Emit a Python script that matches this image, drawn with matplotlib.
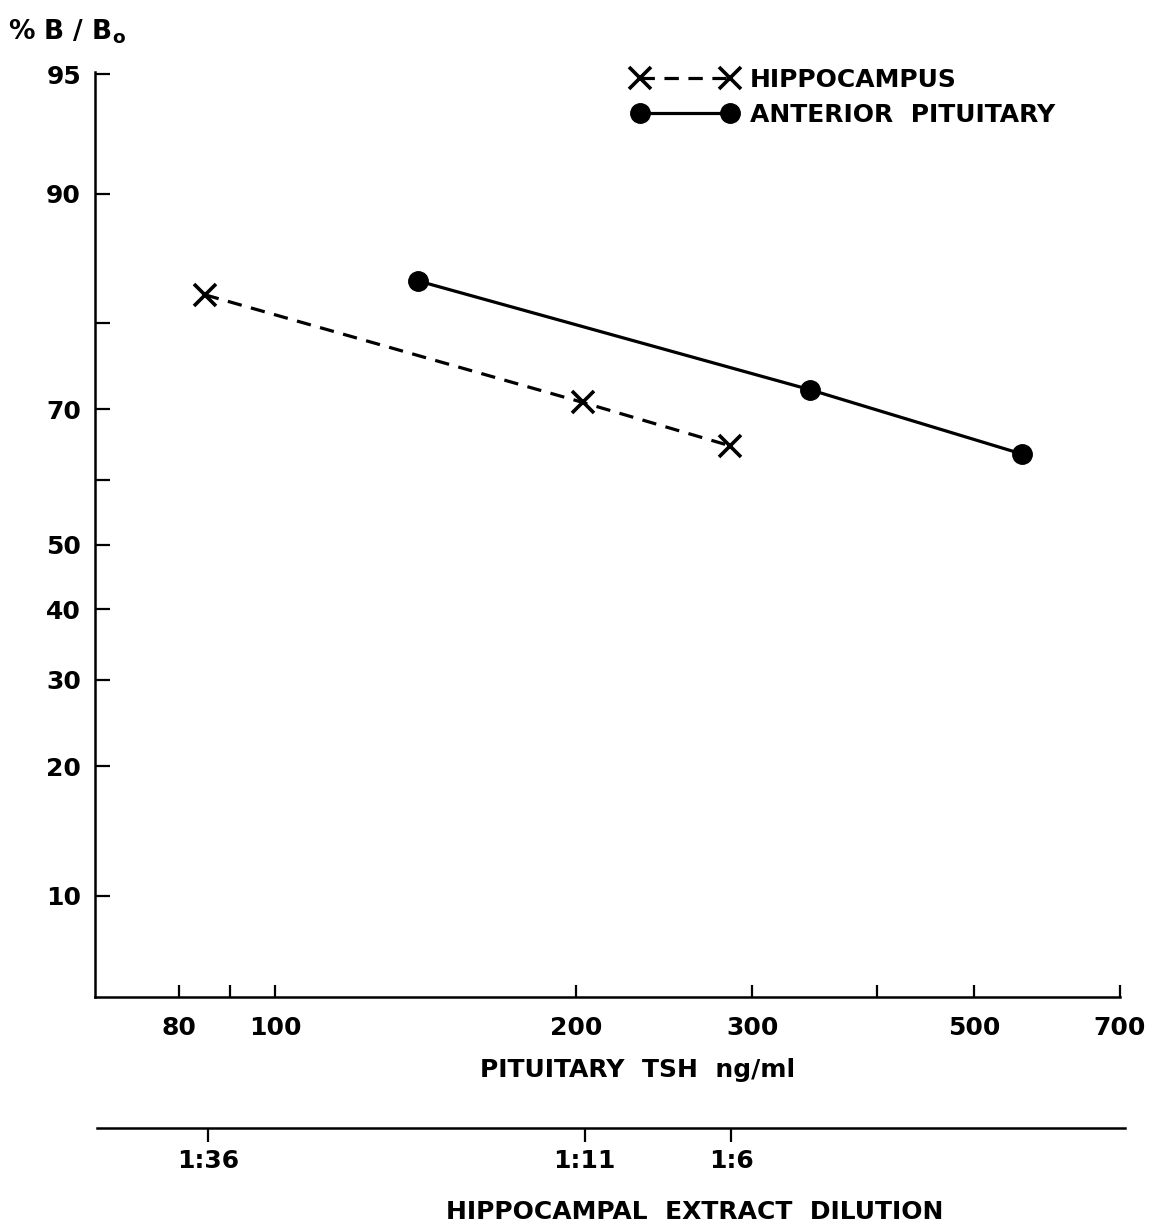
import numpy as np
import matplotlib
matplotlib.use("Agg")
import matplotlib.pyplot as plt

# readings
hippo_tsh = [85, 203, 285]
hippo_bb0 = [82.7, 70.9, 65.0]
pit_tsh = [139, 343, 559]
pit_bb0 = [83.9, 72.5, 63.8]

y_ticks = [95, 90, 80, 70, 60, 50, 40, 30, 20, 10]
y_labels = ['95', '90', '', '70', '', '50', '40', '30', '20', '10']
x_ticks = [80, 90, 100, 200, 300, 400, 500, 700]
x_labels = ['80', '', '100', '200', '300', '', '500', '700']
dilution_labels = ['1:36', '1:11', '1:6']

plt.rcParams['font.family'] = ['DejaVu Sans']
plt.rcParams['font.weight'] = 'bold'
FS = 18


def fwd(p):
    p = np.clip(p, 1e-6, 100 - 1e-6)
    return np.log(p / (100 - p))


def inv(l):
    return 100 / (1 + np.exp(-l))


W, H = 1173, 1231
fig = plt.figure(figsize=(W / 100, H / 100), dpi=100)
ax = fig.add_axes([95 / W, 1 - 997 / H, 1025 / W, 925 / H])

ax.plot(hippo_tsh, hippo_bb0, color='black', lw=2.3, ls=(0, (4.5, 3)),
        marker='x', ms=16, mew=2.6, label='HIPPOCAMPUS')
ax.plot(pit_tsh, pit_bb0, color='black', lw=2.3, ls='-',
        marker='o', ms=14, label='ANTERIOR  PITUITARY')

ax.set_xscale('log')
ax.set_xlim(66, 700)
ax.set_yscale('function', functions=(fwd, inv))
ax.set_ylim(5.56, 95.07)

ax.set_xticks(x_ticks)
ax.set_xticklabels(x_labels)
ax.xaxis.set_minor_locator(matplotlib.ticker.NullLocator())
ax.set_yticks(y_ticks)
ax.set_yticklabels(y_labels)
ax.yaxis.set_minor_locator(matplotlib.ticker.NullLocator())

for s in ['top', 'right']:
    ax.spines[s].set_visible(False)
for s in ['left', 'bottom']:
    ax.spines[s].set_linewidth(1.8)

ax.tick_params(axis='x', direction='in', length=9, width=1.6, pad=14, labelsize=FS)
ax.tick_params(axis='y', direction='in', length=11, width=1.6, pad=10, labelsize=FS)
ax.set_xlabel('PITUITARY  TSH  ng/ml', fontsize=FS, fontweight='bold')
ax.xaxis.set_label_coords((638 - 95) / 1025, -(1058 - 997) / 925)

fig.text(8 / W, 1 - 32 / H, r'% B / B$_\mathbf{o}$', fontsize=FS + 1,
         fontweight='bold', va='center', ha='left')

ax.legend(loc='upper left', bbox_to_anchor=(632 / W, 1 - 68 / H),
          bbox_transform=fig.transFigure, frameon=False, numpoints=2,
          handlelength=4.2, handletextpad=0.5, labelspacing=0.42,
          borderpad=0, borderaxespad=0, prop={'size': FS, 'weight': 'bold'})

# second scale: hippocampal extract dilution
ax2 = fig.add_axes([97 / W, 1 - 1128 / H, 1028 / W, 0.0001])
ax2.set_xscale('log')
ax2.set_xlim(66 * (10 ** (-2 / 999.4)), 700 * (10 ** (5 / 999.4)))
ax2.set_yticks([])
for s in ['top', 'right', 'left']:
    ax2.spines[s].set_visible(False)
ax2.spines['bottom'].set_linewidth(1.8)
ax2.set_xticks(hippo_tsh)
ax2.set_xticklabels(dilution_labels)
ax2.xaxis.set_minor_locator(matplotlib.ticker.NullLocator())
ax2.tick_params(axis='x', direction='out', length=10, width=1.6, pad=5, labelsize=FS)

fig.text(695 / W, 1 - 1212 / H, 'HIPPOCAMPAL  EXTRACT  DILUTION', fontsize=FS,
         fontweight='bold', ha='center', va='center')

fig.savefig('out.png', dpi=100)
